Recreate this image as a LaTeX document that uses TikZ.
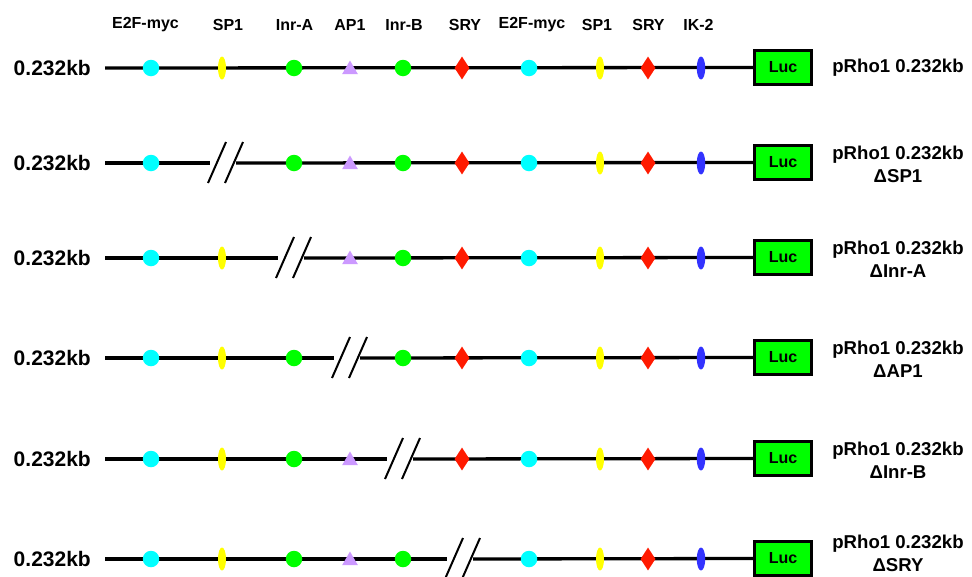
\documentclass[tikz,border=0pt]{standalone}
\usepackage{fontspec}
\setmainfont{Liberation Sans}
\usetikzlibrary{shapes.geometric}
\definecolor{cyandot}{HTML}{00FFFF}
\definecolor{yellowdot}{HTML}{FFFF00}
\definecolor{greendot}{HTML}{00FF00}
\definecolor{reddot}{HTML}{FF1A00}
\definecolor{bluedot}{HTML}{3333FF}
\definecolor{lilac}{HTML}{CC99FF}
\tikzset{
  backbone/.style={line width=3.3pt, black},
  slashmark/.style={line width=2pt, black},
  cyanc/.style={circle, inner sep=0pt, minimum size=16.5pt, fill=cyandot},
  greenc/.style={circle, inner sep=0pt, minimum size=16.5pt, fill=greendot},
  yello/.style={ellipse, inner sep=0pt, minimum width=8pt, minimum height=23pt, fill=yellowdot},
  blueo/.style={ellipse, inner sep=0pt, minimum width=8.5pt, minimum height=23pt, fill=bluedot},
  redd/.style={diamond, inner sep=0pt, minimum width=15pt, minimum height=23pt, fill=reddot},
  tri/.style={regular polygon, regular polygon sides=3, inner sep=0pt, minimum size=18pt, fill=lilac, yshift=-1.5pt},
  lucbox/.style={draw=black, line width=3pt, fill=greendot, minimum width=57pt, minimum height=34pt, inner sep=0pt, font=\fontsize{16}{18}\selectfont\bfseries},
  leftlab/.style={anchor=east, inner sep=0pt, font=\fontsize{21}{24}\selectfont\bfseries},
  rightlab/.style={inner sep=0pt, align=center, font=\fontsize{18.6}{23}\selectfont\bfseries},
  header/.style={inner sep=0pt, font=\fontsize{16}{18}\selectfont\bfseries}
}
\begin{document}
\begin{tikzpicture}[x=1pt,y=-1pt]
\useasboundingbox (0,0) rectangle (972,576);
\fill[white] (0,0) rectangle (972,576);
% headers
\foreach \x/\h [count=\k] in {145.5/E2F-myc, 228/SP1, 294.5/Inr-A, 350/AP1, 404/Inr-B, 465/SRY, 532/E2F-myc, 597/SP1, 648.5/SRY, 698.5/IK-2}{
  \node[header] (h\k) at (\x,25) {\h};
}
% rows
\foreach \r/\y/\del/\c/\lab/\ly in {1/68/0/0/X/68, 2/163/2/226/ΔSP1/164, 3/258/3/294/ΔInr-A/259, 4/358/4/350/ΔAP1/359, 5/459/5/403/ΔInr-B/460, 6/559/6/463/ΔSRY/553}{
  \coordinate (s\r) at (105,\y);
  \node[lucbox] (luc\r) at (783,\y-0.5) {Luc};
  \ifnum\del=0
    \draw[backbone] (s\r) -- (luc\r.west);
  \else
    \coordinate (bl\r) at (\c-16,\y);
    \coordinate (br\r) at (\c+10,\y);
    \draw[backbone] (s\r) -- (bl\r);
    \draw[backbone] (br\r) -- (luc\r.west);
    \draw[slashmark] (\c-18,\y+20) -- (\c,\y-21);
    \draw[slashmark] (\c-1,\y+20) -- (\c+17,\y-21);
  \fi
  \foreach \i/\x/\t in {1/151/cyanc, 2/222/yello, 3/294/greenc, 4/350/tri, 5/403/greenc, 6/462/redd, 7/529/cyanc, 8/600/yello, 9/648/redd, 10/701/blueo}{
    \ifnum\i=\del\else
      \node[\t] (e\r-\i) at (\x,\y) {};
    \fi
  }
  \node[leftlab] (l\r) at (91,\y) {0.232kb};
  \ifnum\del=0
    \node[rightlab] (rl\r) at (898,\ly) {pRho1 0.232kb};
  \else
    \node[rightlab] (rl\r) at (898,\ly) {pRho1 0.232kb\\\lab};
  \fi
}
\end{tikzpicture}
\end{document}
